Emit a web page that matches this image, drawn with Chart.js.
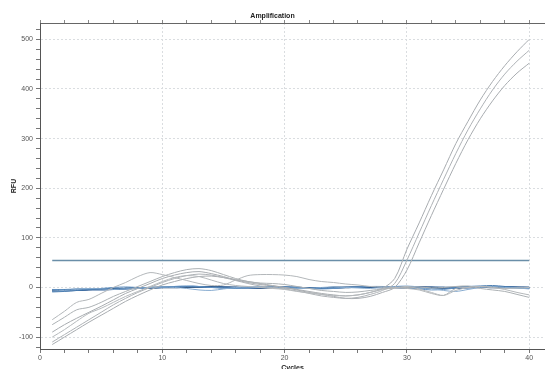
<!DOCTYPE html>
<html>
<head>
<meta charset="utf-8">
<script src="https://cdn.jsdelivr.net/npm/chart.js@4.4.1/dist/chart.umd.min.js"></script>
<style>
html,body{margin:0;padding:0;background:#fff;overflow:hidden;}
#wrap{position:relative;width:545px;height:372px;}
</style>
</head>
<body>
<div id="wrap"><canvas id="c" width="545" height="372"></canvas></div>
<script>
// ---- data ----
const cycles = [1,2,3,4,5,6,7,8,9,10,11,12,13,14,15,16,17,18,19,20,21,22,23,24,25,26,27,28,29,30,31,32,33,34,35,36,37,38,39,40];
const thresholdValue = 54.5;
const xTickLabels = [0,10,20,30,40];
const yTickLabels = [-100,0,100,200,300,400,500];

// amplifying wells (gray)
const ampA = [-90,-75,-62,-50,-38,-25,-12,-2,8,18,25,30,32,28,22,15,10,6,3,0,-4,-8,-12,-15,-17,-15,-10,-2,18,77,130,185,237,290,335,378,415,447,475,500];
const ampB = [-110,-95,-80,-65,-50,-35,-22,-10,0,10,18,24,27,25,20,14,8,3,0,-3,-7,-12,-17,-20,-22,-20,-14,-6,8,55,110,165,218,270,318,360,398,430,456,478];
const ampC = [-115,-100,-85,-70,-56,-42,-28,-16,-5,5,12,18,22,23,20,16,12,8,4,0,-5,-10,-14,-18,-22,-22,-18,-10,0,35,90,145,198,250,298,340,376,407,432,452];
// non-amplifying drifting wells (gray)
const drift1 = [-65,-48,-30,-24,-12,0,10,22,30,26,20,14,8,4,5,15,24,26,26,25,22,16,12,10,7,5,2,1,0,-2,-5,-12,-16,-2,0,2,0,-4,-10,-15];
const drift2 = [-75,-60,-45,-40,-30,-18,-8,2,12,22,30,36,38,34,26,18,12,9,8,6,2,-2,-6,-8,-10,-9,-6,-3,-1,0,1,-1,0,2,3,-2,-5,-8,-14,-20];
const drift3 = [-100,-85,-68,-52,-42,-30,-18,-8,2,12,20,24,22,15,8,4,2,0,-2,-4,-8,-11,-14,-16,-17,-15,-10,-4,-1,2,-3,-10,-16,-6,0,2,0,-2,-1,0];
// flat wells (blue)
const flat1 = [-6,-5,-5,-4,-3,-3,-2,-1,-1,0,0,1,1,1,0,0,0,-1,0,0,0,-1,-1,0,0,1,1,0,0,0,1,0,-1,0,1,1,0,0,0,0];
const flat2 = [-8,-7,-6,-5,-5,-4,-3,-2,-1,0,1,2,2,1,1,0,-1,-1,0,1,0,-1,-2,-1,0,0,1,1,0,-1,0,1,0,-2,-1,0,1,2,1,0];
const flat3 = [-4,-4,-3,-3,-2,0,1,0,-1,0,2,3,2,0,-1,-2,-1,0,1,1,0,-2,-3,-2,0,1,2,1,0,-1,-3,-5,-4,-1,1,2,1,0,-1,-2];
const flat4 = [-7,-6,-4,-2,-3,-4,-3,-2,0,1,0,-2,-5,-6,-3,0,1,1,0,-1,-2,-2,0,1,0,-1,-2,0,2,3,1,-2,-6,-8,-4,0,2,0,-1,-3];
const flat5 = [-5,-5,-4,-4,-3,-2,-2,-1,0,0,0,1,1,1,1,0,0,0,0,0,-1,-1,-1,0,0,0,0,1,1,1,0,0,0,0,0,1,1,0,0,-1];
const flat6 = [-9,-8,-6,-4,-3,-3,-2,-1,0,1,2,2,1,0,-1,-1,0,1,2,1,0,-1,-1,-1,0,1,2,2,1,0,-1,-2,-1,0,2,3,4,2,0,-1];

// ---- build ----
const pts = arr => arr.map((v,i)=>({x:cycles[i], y:v}));
function line(arr, color, width){
  return {data: pts(arr), borderColor: color, borderWidth: width, pointRadius: 0, tension: 0.3, fill: false};
}
const datasets = [
  line(drift1,'#b3b7ba',1),
  line(drift2,'#acb1b4',1),
  line(drift3,'#b5b9bc',1),
  line(ampA,'#a8acb0',1),
  line(ampB,'#aeb2b6',1),
  line(ampC,'#a8acb0',1),
  line(flat4,'#88acd0',1),
  line(flat3,'#5f8fc0',1),
  line(flat6,'#4d7fb2',1),
  line(flat2,'#30609a',1.2),
  line(flat5,'#24507f',1.2),
  line(flat1,'#1b3d6a',1.5),
  {data:[{x:cycles[0],y:thresholdValue},{x:cycles[cycles.length-1],y:thresholdValue}], borderColor:'#6a8ea8', borderWidth:1.5, pointRadius:0, fill:false}
];

const FONT = "'Liberation Sans', Arial, sans-serif";
const xMax = 41.29;

new Chart(document.getElementById('c'), {
  type: 'line',
  data: {datasets},
  options: {
    responsive: false,
    animation: false,
    events: [],
    layout: {padding: 0},
    plugins: {
      legend: {display: false},
      tooltip: {enabled: false},
      title: {display: true, text: 'Amplification', color: '#222',
        font: {family: FONT, size: 7, weight: 'bold'}, padding: {top: 12, bottom: 2.6}}
    },
    scales: {
      x: {
        type: 'linear', position: 'bottom', min: 0, max: xMax,
        afterBuildTicks: s => { s.ticks = s.ticks.filter(t => Math.abs(t.value % 2) < 1e-9); },
        afterFit: s => { s.height = 23; },
        ticks: {stepSize: 2, includeBounds: false, autoSkip: false, maxRotation: 0, padding: 1, color: '#555',
          font: {family: FONT, size: 7},
          callback: v => xTickLabels.includes(v) ? String(v) : ''},
        grid: {color: c => (c.tick && xTickLabels.includes(c.tick.value)) ? '#dadde0' : 'rgba(0,0,0,0)',
          tickColor: '#777', tickLength: 4, lineWidth: 1, tickBorderDash: []},
        border: {display: true, color: '#555', width: 1, dash: [2,2]},
        title: {display: true, text: 'Cycles', color: '#222', font: {family: FONT, size: 7, weight: 'bold'}, padding: 0}
      },
      x2: {
        type: 'linear', position: 'top', min: 0, max: xMax,
        afterBuildTicks: s => { s.ticks = s.ticks.filter(t => Math.abs(t.value % 2) < 1e-9); },
        afterFit: s => { s.height = 0; },
        ticks: {display: false, stepSize: 2, includeBounds: false},
        grid: {drawOnChartArea: false, tickColor: '#888', tickLength: 3},
        border: {display: true, color: '#666', width: 1}
      },
      y: {
        type: 'linear', min: -124, max: 533,
        afterBuildTicks: s => { s.ticks = s.ticks.filter(t => Math.abs(t.value % 20) < 1e-9); },
        afterFit: s => { s.width = 40; },
        ticks: {stepSize: 20, includeBounds: false, autoSkip: false, padding: 3, color: '#555',
          font: {family: FONT, size: 7},
          callback: v => yTickLabels.includes(v) ? String(v) : ''},
        grid: {color: c => (c.tick && yTickLabels.includes(c.tick.value)) ? '#dadde0' : 'rgba(0,0,0,0)',
          tickColor: '#777', tickLength: 4, lineWidth: 1, tickBorderDash: []},
        border: {display: true, color: '#555', width: 1, dash: [2,2]},
        title: {display: true, text: 'RFU', color: '#222', font: {family: FONT, size: 7, weight: 'bold'}, padding: {top: 10, bottom: 0}}
      }
    }
  }
});
</script>
</body>
</html>
